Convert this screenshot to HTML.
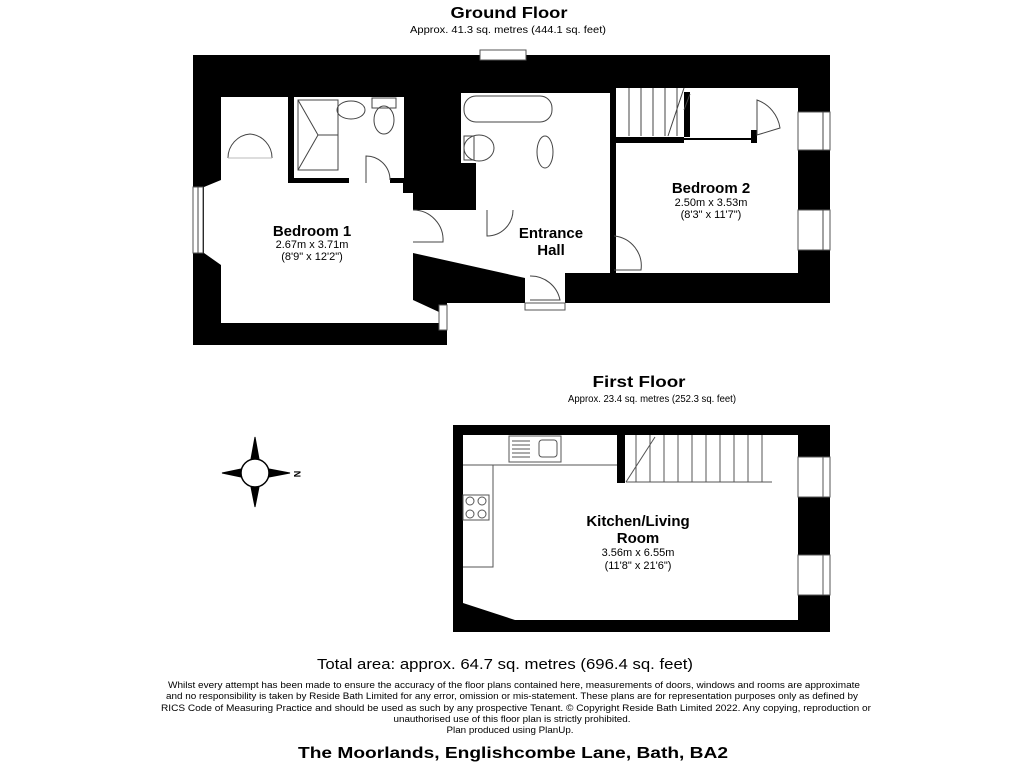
<!DOCTYPE html>
<html><head><meta charset="utf-8"><style>html,body{margin:0;padding:0;background:#fff}svg{display:block}</style></head>
<body>
<svg width="1024" height="768" viewBox="0 0 1024 768" xmlns="http://www.w3.org/2000/svg" font-family="Liberation Sans, sans-serif">
<rect width="1024" height="768" fill="#fff"/>
<!-- Titles -->
<text x="509" y="18" font-size="16" font-weight="bold" text-anchor="middle" textLength="117" lengthAdjust="spacingAndGlyphs">Ground Floor</text>
<text x="508" y="33" font-size="10" text-anchor="middle" textLength="196" lengthAdjust="spacingAndGlyphs">Approx. 41.3 sq. metres (444.1 sq. feet)</text>

<!-- Ground floor -->
<g>
<polygon points="193,55 830,55 830,303 447,303 447,345 193,345" fill="#000"/>
<!-- top window -->
<rect x="480" y="50" width="46" height="10" fill="#fff" stroke="#555" stroke-width="1"/>
<g fill="#fff" stroke="none">
<!-- bedroom 1 -->
<polygon points="221,97 288,97 288,183 349,183 349,178 390,178 390,183 403,183 403,193 413,193 413,300 439,312 439,323 221,323 221,265 204,253 204,187 221,180"/>
<!-- ensuite -->
<rect x="294" y="97" width="110" height="81"/>
<!-- hall -->
<polygon points="413,210 476,210 476,203 557,203 557,93 610,93 610,273 565,273 565,303 525,303 525,278 413,253"/>
<!-- bathroom -->
<rect x="461" y="93" width="96" height="70"/>
<rect x="476" y="160" width="81" height="45"/>
<!-- stairs area / bedroom 2 -->
<rect x="616" y="88" width="182" height="50"/>
<rect x="616" y="140" width="182" height="133"/>
<rect x="757" y="90" width="41" height="60"/>
</g>
<!-- walls inside -->
<rect x="610" y="137" width="6" height="136" fill="#000"/>
<rect x="610" y="137" width="74" height="6" fill="#000"/>
<rect x="684" y="92" width="6" height="45" fill="#000"/>
<rect x="751" y="130" width="6" height="13" fill="#000"/>
<!-- windows -->
<g fill="#fff" stroke="#555" stroke-width="1">
<rect x="193" y="187" width="10" height="66"/>
<rect x="798" y="112" width="32" height="38"/>
<rect x="798" y="210" width="32" height="40"/>
<rect x="439" y="305" width="8" height="25"/>
<rect x="525" y="303" width="40" height="7"/>
</g>
<g fill="none" stroke="#444" stroke-width="1">
<line x1="823" y1="112" x2="823" y2="150"/><line x1="823" y1="210" x2="823" y2="250"/>
<line x1="198" y1="187" x2="198" y2="253"/>
<!-- wardrobe doors -->
<path d="M228,158 A24,24 0 0 1 250,134 M272,158 A24,24 0 0 0 250,134"/>
<line x1="228" y1="158" x2="272" y2="158" stroke="#bbb"/>
<!-- shower -->
<rect x="298" y="100" width="40" height="70"/>
<path d="M298,100 L318,135 L298,170 M318,135 L338,135"/>
<!-- basin / toilet -->
<ellipse cx="351" cy="110" rx="14" ry="9"/>
<rect x="372" y="98" width="24" height="10"/>
<ellipse cx="384" cy="120" rx="10" ry="14"/>
<!-- ensuite door -->
<path d="M366,183 L366,156 A24,24 0 0 1 390,180"/>
<!-- bath -->
<rect x="464" y="96" width="88" height="26" rx="12"/>
<ellipse cx="479" cy="148" rx="15" ry="13"/>
<rect x="464" y="136" width="10" height="24"/>
<ellipse cx="545" cy="152" rx="8" ry="16"/>
<!-- bathroom door -->
<path d="M487,210 L487,236 A26,26 0 0 0 513,210"/>
<!-- bedroom1 door -->
<path d="M413,210 A30,30 0 0 1 443,242 L413,242"/>
<!-- bedroom2 door -->
<path d="M614,236 A30,30 0 0 1 641,270 L614,270"/>
<!-- front door -->
<path d="M530,276 A30,30 0 0 1 560,300 L530,300"/>
<!-- cupboard door -->
<path d="M757,135 L757,100 A35,35 0 0 1 780,128 Z"/>
<!-- stairs -->
<path d="M629,88 V136 M641,88 V136 M653,88 V136 M665,88 V136 M677,88 V136 M684,88 L668,136 M690,94 L684,110"/>
</g>
<g text-anchor="middle">
<text x="312" y="236" font-size="15" font-weight="bold">Bedroom 1</text>
<text x="312" y="248" font-size="11">2.67m x 3.71m</text>
<text x="312" y="260" font-size="11">(8'9" x 12'2")</text>
<text x="551" y="238" font-size="15" font-weight="bold">Entrance</text>
<text x="551" y="255" font-size="15" font-weight="bold">Hall</text>
<text x="711" y="193" font-size="15" font-weight="bold">Bedroom 2</text>
<text x="711" y="206" font-size="11">2.50m x 3.53m</text>
<text x="711" y="218" font-size="11">(8'3" x 11'7")</text>
</g>
</g>

<!-- First floor -->
<text x="639" y="387" font-size="16" font-weight="bold" text-anchor="middle" textLength="93" lengthAdjust="spacingAndGlyphs">First Floor</text>
<text x="652" y="402" font-size="10" text-anchor="middle" textLength="168" lengthAdjust="spacingAndGlyphs">Approx. 23.4 sq. metres (252.3 sq. feet)</text>
<g>
<rect x="453" y="425" width="377" height="207" fill="#000"/>
<polygon points="463,435 798,435 798,620 515,620 463,603" fill="#fff"/>
<rect x="617" y="435" width="8" height="48" fill="#000"/>
<g fill="#fff" stroke="#555" stroke-width="1">
<rect x="798" y="457" width="32" height="40"/>
<rect x="798" y="555" width="32" height="40"/>
</g>
<g fill="none" stroke="#555" stroke-width="1">
<line x1="823" y1="457" x2="823" y2="497"/><line x1="823" y1="555" x2="823" y2="595"/>
<path d="M463,465 H617 M493,465 V567 H463"/>
<rect x="509" y="436" width="52" height="26"/>
<path d="M512,441 H530 M512,445 H530 M512,449 H530 M512,453 H530 M512,457 H530"/>
<rect x="539" y="440" width="18" height="17" rx="3"/>
<rect x="463" y="495" width="26" height="25"/>
<circle cx="470" cy="501" r="4"/><circle cx="482" cy="501" r="4"/><circle cx="470" cy="514" r="4"/><circle cx="482" cy="514" r="4"/>
<path d="M626,482 H772 M636,435 V482 M650,435 V482 M664,435 V482 M678,435 V482 M692,435 V482 M706,435 V482 M720,435 V482 M734,435 V482 M748,435 V482 M762,435 V482 M626,482 L655,437"/>
</g>
<g text-anchor="middle">
<text x="638" y="526" font-size="15" font-weight="bold">Kitchen/Living</text>
<text x="638" y="543" font-size="15" font-weight="bold">Room</text>
<text x="638" y="556" font-size="11">3.56m x 6.55m</text>
<text x="638" y="569" font-size="11">(11'8" x 21'6")</text>
</g>
</g>

<!-- compass -->
<g stroke="#000" stroke-width="1" fill="#000">
<polygon points="255,437 259,459 251,459"/>
<polygon points="255,507 259,487 251,487"/>
<polygon points="222,473 241,469 241,477"/>
<polygon points="290,473 269,469 269,477"/>
<circle cx="255" cy="473" r="14" fill="#fff" stroke-width="1.5"/>
</g>
<text x="297" y="477" font-size="9" font-weight="bold" text-anchor="middle" transform="rotate(90 297 474)">N</text>

<!-- footer -->
<text x="505" y="669" font-size="15" text-anchor="middle" textLength="376" lengthAdjust="spacingAndGlyphs">Total area: approx. 64.7 sq. metres (696.4 sq. feet)</text>
<g font-size="9" text-anchor="middle">
<text x="514" y="688" textLength="692" lengthAdjust="spacingAndGlyphs">Whilst every attempt has been made to ensure the accuracy of the floor plans contained here, measurements of doors, windows and rooms are approximate</text>
<text x="512" y="699" textLength="692" lengthAdjust="spacingAndGlyphs">and no responsibility is taken by Reside Bath Limited for any error, omission or mis-statement. These plans are for representation purposes only as defined by</text>
<text x="516" y="711" textLength="710" lengthAdjust="spacingAndGlyphs">RICS Code of Measuring Practice and should be used as such by any prospective Tenant. © Copyright Reside Bath Limited 2022. Any copying, reproduction or</text>
<text x="512" y="722" textLength="237" lengthAdjust="spacingAndGlyphs">unauthorised use of this floor plan is strictly prohibited.</text>
<text x="510" y="733" textLength="127" lengthAdjust="spacingAndGlyphs">Plan produced using PlanUp.</text>
</g>
<text x="513" y="758" font-size="16" font-weight="bold" text-anchor="middle" textLength="430" lengthAdjust="spacingAndGlyphs">The Moorlands, Englishcombe Lane, Bath, BA2</text>
</svg>
</body></html>
